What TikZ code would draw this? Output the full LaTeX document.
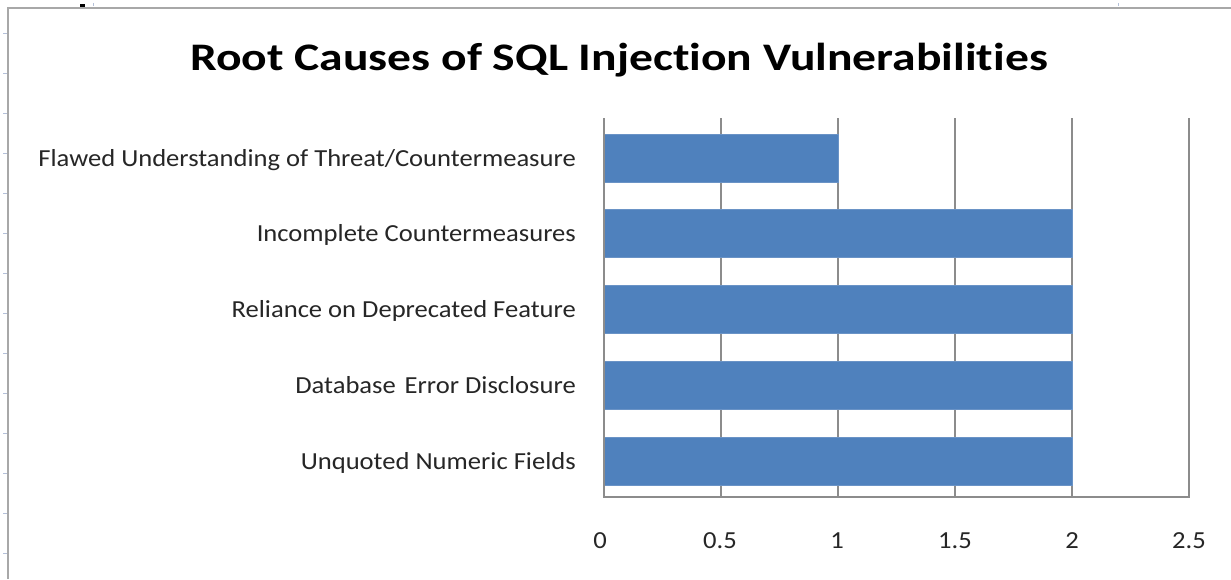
\documentclass[tikz,border=0pt]{standalone}
\usepackage{fontspec}
\setmainfont{Carlito}[Ligatures={NoCommon}]
\definecolor{barblue}{HTML}{4F81BD}
\definecolor{baredge}{HTML}{6A93C6}
\definecolor{gridgray}{HTML}{8C8C8C}
\definecolor{framegray}{HTML}{A8A8A8}
\definecolor{tickblue}{HTML}{B4C0D8}
\newcommand{\wideA}[1]{\scalebox{1.085}[1]{#1}}
\newcommand{\wideB}[1]{\scalebox{1.22}[1]{#1}}
\begin{document}
\begin{tikzpicture}[x=1pt,y=-1pt,
  catlabel/.style={anchor=base east,inner sep=0pt,font=\fontsize{24.5}{28}\selectfont,text=black!85},
  ticklabel/.style={anchor=base,inner sep=0pt,font=\fontsize{24.5}{28}\selectfont,text=black!85},
  bar/.style={fill=barblue,draw=baredge,line width=0.8pt},
  gridline/.style={draw=gridgray,line width=1.6pt},
  axisline/.style={draw=gridgray,line width=1.8pt}]
\useasboundingbox (0,0) rectangle (1231,579);
\fill[white] (0,0) rectangle (1231,579);
% sheet frame
\draw[framegray,line width=2.2pt] (8,579) -- (8,8) -- (1231,8);
\foreach \yy in {33,73,...,553} \draw[tickblue,line width=1pt] (3,\yy) -- (7,\yy);
\draw[tickblue,line width=1pt] (93,3) -- (93,6);
\draw[tickblue,line width=1pt] (1118,3) -- (1118,6);
\fill[black] (80,4) rectangle (85,7);
% title
\node[anchor=base,inner sep=0pt,font=\fontsize{39}{44}\selectfont\bfseries] (title) at (619,70) {\wideB{Root Causes of SQL Injection Vulnerabilities}};
% tick labels
\foreach \v/\xx in {0/600,0.5/720,1/837,1.5/955,2/1072,2.5/1189} {
  \node[ticklabel] at (\xx,548) {\wideA{\v}};
}
% gridlines
\foreach \xx in {604,721,838,955,1072,1189} {
  \draw[gridline] (\xx,118) -- (\xx,497);
}
% bars
\node[bar,inner sep=0pt,minimum width=234pt,minimum height=48pt,anchor=west] (b1) at (604,158) {};
\node[bar,inner sep=0pt,minimum width=468pt,minimum height=48pt,anchor=west] (b2) at (604,233.5) {};
\node[bar,inner sep=0pt,minimum width=468pt,minimum height=48pt,anchor=west] (b3) at (604,309.5) {};
\node[bar,inner sep=0pt,minimum width=468pt,minimum height=48pt,anchor=west] (b4) at (604,385) {};
\node[bar,inner sep=0pt,minimum width=468pt,minimum height=48pt,anchor=west] (b5) at (604,461) {};
% axes
\draw[axisline] (604,118) -- (604,497) -- (1190,497);
% category labels
\node[catlabel] (l1) at (576,166) {\wideA{Flawed Understanding of Threat/Countermeasure}};
\node[catlabel] (l2) at (576,241.5) {\wideA{Incomplete Countermeasures}};
\node[catlabel] (l3) at (576,317.5) {\wideA{Reliance on Deprecated Feature}};
\node[catlabel] (l4) at (576,393) {\wideA{Database\,\,Error Disclosure}};
\node[catlabel] (l5) at (576,469) {\wideA{Unquoted Numeric Fields}};
\end{tikzpicture}
\end{document}
